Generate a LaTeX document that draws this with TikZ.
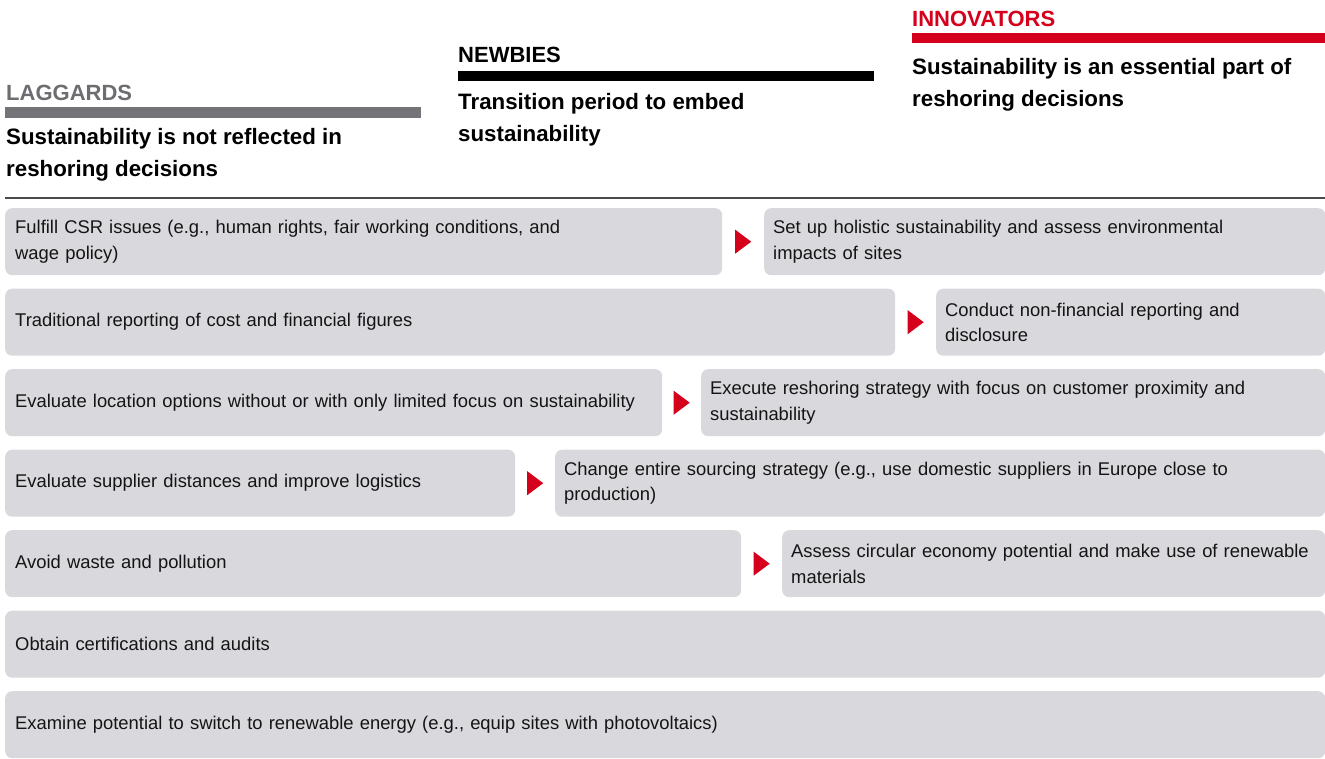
\documentclass[tikz,border=0pt]{standalone}
\usepackage{fontspec}
\setmainfont{Liberation Sans}
\usetikzlibrary{positioning,calc}
\definecolor{boxgray}{HTML}{D9D9DD}
\definecolor{porschered}{HTML}{D5001C}
\definecolor{laggray}{HTML}{6B6D70}
\definecolor{bargray}{HTML}{737378}
\definecolor{rulegray}{HTML}{4A4A4D}
\definecolor{textdark}{HTML}{141414}

\begin{document}
\begin{tikzpicture}[x=1pt,y=-1pt,
	item/.style={fill=boxgray, rounded corners=7pt, minimum height=67pt, inner xsep=10pt, inner ysep=0pt, align=left, anchor=north west, text=textdark, font=\fontsize{18.4}{25.5}\selectfont, execute at begin node={\hyphenpenalty=10000\relax}},
	group/.style={anchor=base west, inner sep=0pt, font=\fontsize{22}{26}\selectfont\bfseries},
	claim/.style={anchor=base west, inner sep=0pt, align=left, font=\fontsize{22.3}{32}\selectfont\bfseries}]
		\useasboundingbox (0,0) rectangle (1325,758);

		% headings
		\node[group, text=laggray] (lag) at (6,100) {LAGGARDS};
		\fill[bargray] (5,107) rectangle (421,118);
		\node[claim] (lagtxt) at (6,176) {Sustainability is not reflected in\\reshoring decisions};

		\node[group] (new) at (458,62) {NEWBIES};
		\fill[black] (458,70.5) rectangle (874,80.5);
		\node[claim] (newtxt) at (458,141.5) {Transition period to embed\\sustainability};

		\node[group, text=porschered] (inn) at (912,26.5) {INNOVATORS};
		\fill[porschered] (912,33) rectangle (1325,43);
		\node[claim] (inntxt) at (912,106.5) {Sustainability is an essential part of\\reshoring decisions};

		\draw[line width=2pt, rulegray] (5,197.5) -- (1325,197.5);

		% rows
		\node[item, text width=697pt] (l1) at (5,208) {Fulfill CSR issues (e.g., human rights, fair working conditions, and\\wage policy)};
		\node[item, text width=543pt, inner xsep=9pt] (r1) at (764,208) {Set up holistic sustainability and assess environmental\\impacts of sites};

		\node[item, text width=870pt] (l2) at (5,288.5) {Traditional reporting of cost and financial figures};
		\node[item, text width=371pt, inner xsep=9pt] (r2) at (936,288.5) {Conduct non-financial reporting and\\disclosure};

		\node[item, text width=637pt] (l3) at (5,369) {Evaluate location options without or with only limited focus on sustainability};
		\node[item, text width=606pt, inner xsep=9pt] (r3) at (701,369) {Execute reshoring strategy with focus on customer proximity and\\sustainability};

		\node[item, text width=490pt] (l4) at (5,449.5) {Evaluate supplier distances and improve logistics};
		\node[item, text width=752pt, inner xsep=9pt] (r4) at (555,449.5) {Change entire sourcing strategy (e.g., use domestic suppliers in Europe close to\\production)};

		\node[item, text width=716pt] (l5) at (5,530) {Avoid waste and pollution};
		\node[item, text width=525pt, inner xsep=9pt] (r5) at (782,530) {Assess circular economy potential and make use of renewable\\materials};

		\node[item, text width=1300pt] (l6) at (5,610.5) {Obtain certifications and audits};
		\node[item, text width=1300pt] (l7) at (5,691) {Examine potential to switch to renewable energy (e.g., equip sites with photovoltaics)};

		% red markers between the boxes
		\foreach \i in {1,...,5}{
			\coordinate (a\i) at ($(l\i.east)!.5!(r\i.west)$);
			\fill[porschered] ($(a\i)+(-8,-12)$) -- ($(a\i)+(8,0)$) -- ($(a\i)+(-8,12)$) -- cycle;
		}
	\end{tikzpicture}
\end{document}
